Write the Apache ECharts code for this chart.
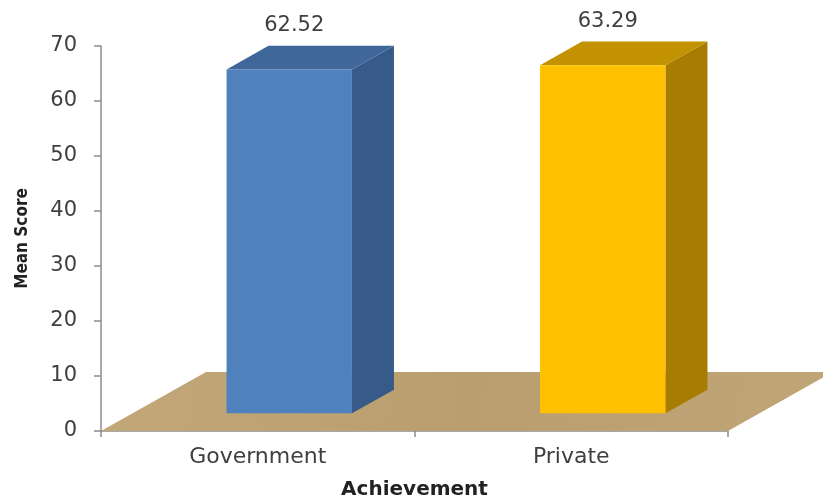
<!DOCTYPE html>
<html>
<head>
<meta charset="utf-8">
<style>
  html, body { margin: 0; padding: 0; background: #ffffff; }
  #chart { width: 823px; height: 495px; }
</style>
<script src="https://cdn.jsdelivr.net/npm/echarts@6/dist/echarts.min.js"></script>
</head>
<body>
<div id="chart"></div>
<script>
// Mean achievement score by school type
const categories = ['Government', 'Private'];
const meanScores = [62.52, 63.29];
const yAxisMin = 0;
const yAxisMax = 70;
const yAxisStep = 10;

// Face colours for each bar: front, right side, top
const frontColors = ['#4F81BD', '#FFC000'];
const sideColors = ['#375A88', '#A67D00'];
const topColors = ['#3F679A', '#C29200'];

// Depth vector of the floor (pixels), bars sit between 30% and 70% of it
const DEPTH_X = 105;
const DEPTH_Y = -59;
const BAR_FRONT = 0.3;
const BAR_BACK = 0.7;
const BAR_WIDTH_RATIO = 0.40;

const FONT = 'DejaVu Sans';
const TEXT = '#3F3F3F';

const chart = echarts.init(document.getElementById('chart'), null, { renderer: 'canvas' });

function renderFloor(params, api) {
  const cs = params.coordSys;
  const y0 = api.coord([0, 0])[1];
  const x0 = cs.x;
  const x1 = cs.x + cs.width;
  return {
    type: 'polygon',
    shape: {
      points: [
        [x0, y0], [x1, y0],
        [x1 + DEPTH_X, y0 + DEPTH_Y], [x0 + DEPTH_X, y0 + DEPTH_Y]
      ]
    },
    style: {
      fill: new echarts.graphic.LinearGradient(0, 0, 1, 1, [
        { offset: 0, color: '#C2A779' },
        { offset: 0.5, color: '#BA9E6F' },
        { offset: 1, color: '#C0A576' }
      ])
    }
  };
}

function renderBar(params, api) {
  const idx = api.value(0);
  const val = api.value(1);
  const base = api.coord([idx, 0]);
  const top = api.coord([idx, val]);
  const bw = api.size([1, 0])[0] * BAR_WIDTH_RATIO;
  const ox = DEPTH_X * BAR_FRONT;
  const oy = DEPTH_Y * BAR_FRONT;
  const dx = DEPTH_X * (BAR_BACK - BAR_FRONT);
  const dy = DEPTH_Y * (BAR_BACK - BAR_FRONT);
  const cx = base[0] + ox;
  const fx0 = cx - bw / 2;
  const fx1 = cx + bw / 2;
  const fb = base[1] + oy;
  const ft = top[1] + oy;
  const i = params.dataIndex;
  return {
    type: 'group',
    children: [
      {
        type: 'polygon',
        shape: { points: [[fx1, ft], [fx1 + dx, ft + dy], [fx1 + dx, fb + dy], [fx1, fb]] },
        style: { fill: sideColors[i] }
      },
      {
        type: 'polygon',
        shape: { points: [[fx0, ft], [fx0 + dx, ft + dy], [fx1 + dx, ft + dy], [fx1, ft]] },
        style: { fill: topColors[i] }
      },
      {
        type: 'rect',
        shape: { x: fx0, y: ft, width: bw, height: fb - ft },
        style: { fill: frontColors[i] }
      },
      {
        type: 'text',
        x: cx + 5,
        y: ft + dy - 20,
        style: {
          text: val.toFixed(2),
          fill: TEXT,
          font: '21px "' + FONT + '"',
          align: 'center',
          verticalAlign: 'middle'
        }
      }
    ]
  };
}

chart.setOption({
  animation: false,
  backgroundColor: '#ffffff',
  grid: { left: 101, right: 95, top: 46, bottom: 64, containLabel: false, outerBoundsMode: 'none' },
  xAxis: {
    type: 'category',
    data: categories,
    name: 'Achievement',
    nameLocation: 'middle',
    nameGap: 49,
    nameTextStyle: { fontFamily: FONT, fontWeight: 'bold', fontSize: 20, color: '#222222' },
    axisLine: { lineStyle: { color: '#8C8C8C', width: 1.5 } },
    axisTick: { show: true, length: 6, lineStyle: { color: '#8C8C8C', width: 1.5 } },
    axisLabel: { fontFamily: FONT, fontSize: 22, color: TEXT, margin: 15 },
    splitLine: { show: false }
  },
  yAxis: {
    type: 'value',
    min: yAxisMin,
    max: yAxisMax,
    interval: yAxisStep,
    name: 'Mean Score',
    nameLocation: 'middle',
    nameGap: 70,
    nameRotate: 90,
    nameTextStyle: { fontFamily: 'DejaVu Sans Condensed', fontWeight: 'bold', fontSize: 17, color: '#222222' },
    axisLine: { show: true, lineStyle: { color: '#8C8C8C', width: 1.5 } },
    axisTick: { show: true, length: 7, lineStyle: { color: '#8C8C8C', width: 1.5 } },
    axisLabel: { fontFamily: FONT, fontSize: 21, color: TEXT, margin: 24 },
    splitLine: { show: false }
  },
  series: [
    {
      type: 'custom',
      name: 'floor',
      z: 1,
      clip: false,
      silent: true,
      renderItem: renderFloor,
      data: [[0, 0]]
    },
    {
      type: 'custom',
      name: 'Mean Score',
      z: 3,
      clip: false,
      renderItem: renderBar,
      encode: { x: 0, y: 1 },
      data: meanScores.map((v, i) => [i, v])
    }
  ]
});
</script>
</body>
</html>
